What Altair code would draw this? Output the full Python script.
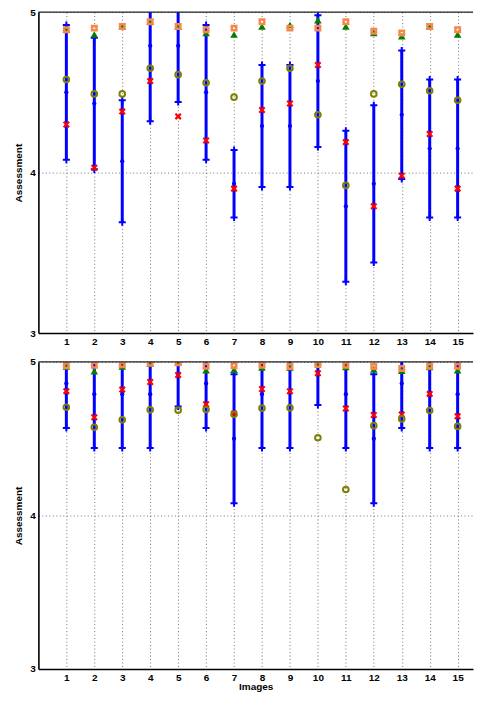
import altair as alt
import pandas as pd

images = list(range(1, 16))

# ---- top panel ----
mean_top = [4.50, 4.43, 4.07, 4.79, 4.79, 4.50, 3.93, 4.29, 4.29, 4.57, 3.79, 3.93, 4.36, 4.15, 4.15]
sd_top = [0.42, 0.41, 0.38, 0.47, 0.35, 0.42, 0.21, 0.38, 0.38, 0.41, 0.47, 0.49, 0.40, 0.43, 0.43]
cross_top = [4.30, 4.03, 4.38, 4.57, 4.35, 4.20, 3.90, 4.39, 4.43, 4.67, 4.19, 3.79, 3.98, 4.24, 3.90]
circle_top = [4.58, 4.49, 4.49, 4.65, 4.61, 4.56, 4.47, 4.57, 4.65, 4.36, 3.92, 4.49, 4.55, 4.51, 4.45]
triangle_top = [4.89, 4.86, 4.91, 4.94, 4.91, 4.87, 4.86, 4.91, 4.92, 4.95, 4.91, 4.87, 4.85, 4.91, 4.86]
square_top = [4.89, 4.90, 4.91, 4.94, 4.91, 4.89, 4.90, 4.94, 4.90, 4.90, 4.94, 4.88, 4.87, 4.91, 4.89]

# ---- bottom panel ----
mean_bot = [4.86, 4.79, 4.79, 4.79, 4.92, 4.86, 4.50, 4.79, 4.80, 4.93, 4.79, 4.50, 4.86, 4.79, 4.79]
sd_bot = [0.29, 0.35, 0.35, 0.35, 0.21, 0.29, 0.42, 0.35, 0.36, 0.21, 0.35, 0.42, 0.29, 0.35, 0.35]
cross_bot = [4.81, 4.64, 4.82, 4.87, 4.915, 4.725, 4.665, 4.824, 4.809, 4.926, 4.697, 4.654, 4.658, 4.792, 4.646]
circle_bot = [4.705, 4.574, 4.623, 4.688, 4.686, 4.690, 4.659, 4.699, 4.701, 4.506, 4.169, 4.585, 4.629, 4.684, 4.580]
triangle_bot = [4.97, 4.94, 4.97, 4.99, 5.0, 4.947, 4.95, 4.964, 4.964, 5.0, 4.968, 4.951, 4.943, 4.968, 4.947]
square_bot = [4.975, 4.979, 4.981, 4.992, 4.994, 4.972, 4.975, 4.979, 4.970, 4.983, 4.979, 4.970, 4.957, 4.972, 4.972]

y_ticks = [3, 4, 5]
y_top_value = [5]

BLUE = "#0000ff"
RED = "#ff0000"
OLIVE = "#808000"
GREEN = "#008000"
ORANGE = "#f5884a"
FONT = "Liberation Sans"

PLUS = "M-1,0L1,0M0,-1L0,1"
XSHAPE = "M-1,-1L1,1M-1,1L1,-1"


def panel(mean, sd, red, olive, green, orange, height, bottom):
    df = pd.DataFrame({"image": images, "mean": mean, "sd": sd, "red": red,
                       "olive": olive, "green": green, "orange": orange})
    base = alt.Chart(df).transform_calculate(
        lo="datum.mean - datum.sd",
        hi="min(datum.mean + datum.sd, 5)",
        raw_hi="datum.mean + datum.sd")
    xscale = alt.Scale(domain=[0, 15.55], nice=False, zero=False)
    yscale = alt.Scale(domain=[3, 5], nice=False, zero=False)
    if bottom:
        xaxis = alt.Axis(values=images, labelPadding=4, titlePadding=-1, title="Images")
    else:
        xaxis = alt.Axis(values=images, labelPadding=3, title=None)
    yaxis = alt.Axis(values=y_ticks, labelExpr="datum.value", labelPadding=3,
                     titlePadding=6, title="Assessment")

    x = alt.X("image:Q", scale=xscale, axis=xaxis)

    def yy(field):
        return alt.Y(field + ":Q", scale=yscale, axis=yaxis)

    bars = base.mark_rule(color=BLUE, strokeWidth=3, clip=True).encode(
        x=x, y=yy("lo"), y2="hi:Q")
    cap_lo = base.mark_point(shape=PLUS, filled=False, color=BLUE, strokeWidth=2,
                             size=50, opacity=1, clip=True).encode(x=x, y=yy("lo"))
    cap_hi = base.transform_filter("datum.raw_hi <= 5").mark_point(
        shape=PLUS, filled=False, color=BLUE, strokeWidth=2,
        size=50, opacity=1, clip=True).encode(x=x, y=yy("raw_hi"))
    dots = base.mark_point(shape="circle", filled=True, color=BLUE, size=18,
                           opacity=1, clip=True).encode(x=x, y=yy("mean"))
    crosses = base.mark_point(shape=XSHAPE, filled=False, color=RED, strokeWidth=2.2,
                              size=30, opacity=1, clip=True).encode(x=x, y=yy("red"))
    circles = base.mark_point(shape="circle", filled=False, color=OLIVE, strokeWidth=2,
                              size=32, opacity=1, clip=True).encode(x=x, y=yy("olive"))
    tris = base.mark_point(shape="triangle-up", filled=True, color=GREEN, size=58,
                           opacity=1, clip=True).encode(x=x, y=yy("green"))
    squares = base.mark_point(shape="square", filled=False, color=ORANGE, strokeWidth=2.5,
                              size=20, opacity=1, clip=True).encode(x=x, y=yy("orange"))
    top_line = alt.Chart(pd.DataFrame({"v": y_top_value})).mark_rule(
        color="#222222", strokeWidth=1.2).encode(y=yy("v"))

    return alt.layer(bars, cap_lo, cap_hi, dots, crosses, circles, tris, squares,
                     top_line).properties(width=436, height=height)


top = panel(mean_top, sd_top, cross_top, circle_top, triangle_top, square_top, 322, False)
bot = panel(mean_bot, sd_bot, cross_bot, circle_bot, triangle_bot, square_bot, 308, True)

chart = alt.vconcat(top, bot, spacing=9).properties(
    padding={"left": 4.5, "top": -3, "right": 0, "bottom": 0}
).configure_view(stroke="transparent").configure_axis(
    domainColor="black", domainWidth=1.6, ticks=False,
    labelFont=FONT, labelFontWeight="bold", labelFontSize=10, labelColor="black",
    titleFont=FONT, titleFontWeight="bold", titleFontSize=10, titleColor="black",
    grid=True, gridColor="#666666", gridDash=[1, 2.5], gridWidth=1, gridOpacity=0.9,
)

chart.save("out.html", embed_options={"renderer": "svg", "actions": False})
